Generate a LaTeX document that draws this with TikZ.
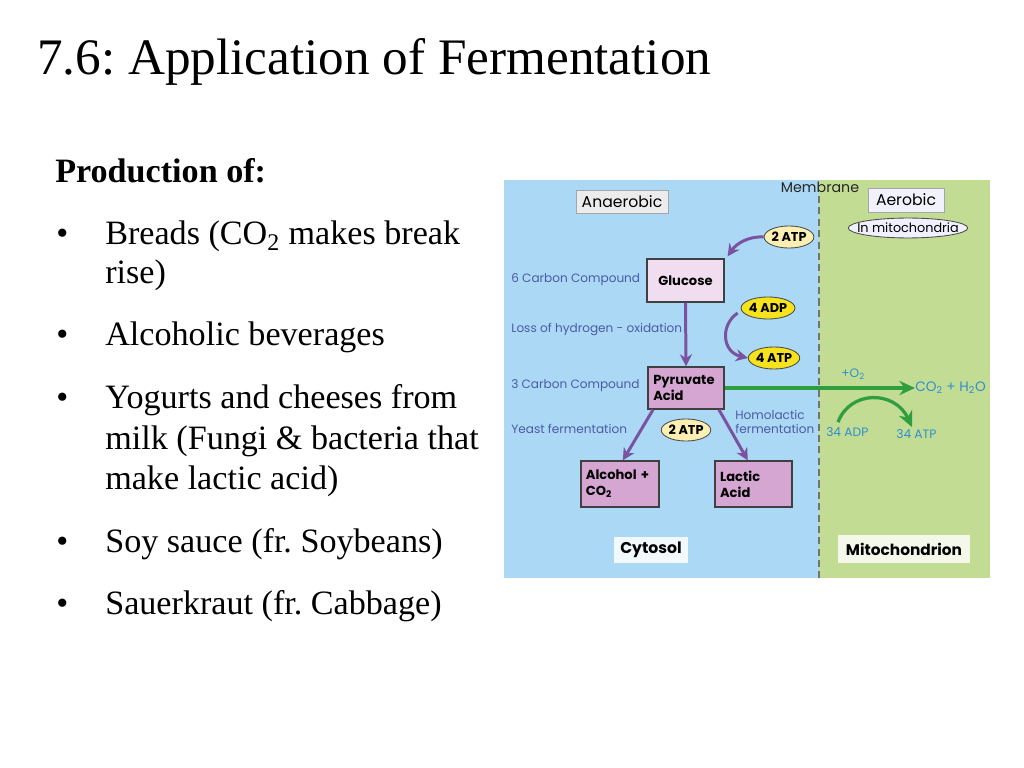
\documentclass[tikz,border=0pt]{standalone}
\usepackage{fontspec}
\setmainfont{Liberation Serif}
\newfontfamily\dfont{Poppins}
\usetikzlibrary{arrows.meta,shapes.geometric}
\frenchspacing
\definecolor{bluebg}{HTML}{ABD8F4}
\definecolor{greenbg}{HTML}{C2DC94}
\definecolor{purp}{HTML}{7A52A0}
\definecolor{lblue}{HTML}{4B5BA6}
\definecolor{rblue}{HTML}{2E8FCB}
\definecolor{grn}{HTML}{2E9E3E}
\definecolor{boxlight}{HTML}{F0DEF0}
\definecolor{boxmed}{HTML}{D6A6D2}
\definecolor{paley}{HTML}{FBEFB2}
\definecolor{brighty}{HTML}{F6E31C}
\tikzset{
  body/.style={anchor=base west,inner sep=0pt,font=\fontsize{24}{28}\selectfont},
  dlabel/.style={anchor=west,inner sep=0pt,text=lblue,font=\dfont\fontsize{8.5}{10}\selectfont},
  rlabel/.style={anchor=west,inner sep=0pt,text=rblue,font=\dfont\fontsize{8.6}{10}\selectfont},
  mbox/.style={draw=black!75,line width=0.9pt,align=left,font=\dfont\bfseries\fontsize{9.2}{11}\selectfont,inner sep=0pt},
  tagbox/.style={draw=black!35,line width=0.5pt,font=\dfont\fontsize{11}{12}\selectfont,inner sep=0pt},
  atpell/.style={ellipse,draw=black!70,line width=0.6pt,font=\dfont\bfseries\fontsize{9}{10}\selectfont,inner sep=0pt},
  parrow/.style={draw=purp,line width=2.1pt,-{Stealth[length=8.5pt,width=8.5pt]}},
  garrow/.style={draw=grn,line width=2.3pt,-{Stealth[length=11pt,width=10pt]}},
}
\begin{document}
\begin{tikzpicture}[x=0.703125pt,y=-0.703125pt]
\useasboundingbox[fill=white] (0,0) rectangle (1024,768);
% title and text
\node[anchor=base west,inner sep=0pt,font=\fontsize{36}{42}\selectfont] (title) at (37,75) {7.6: Application of Fermentation};
\node[body,font=\bfseries\fontsize{24}{28}\selectfont] (prod) at (55,183) {Production of:};
\node[body] (b1) at (56,245) {•};
\node[body] (t1) at (105,245) {Breads (CO\textsubscript{2} makes break};
\node[body] (t1b) at (105,283) {rise)};
\node[body] (b2) at (56,346) {•};
\node[body] (t2) at (105,346) {Alcoholic beverages};
\node[body] (b3) at (56,408) {•};
\node[body] (t3) at (105,408) {Yogurts and cheeses from};
\node[body] (t3b) at (105,449) {milk (Fungi \& bacteria that};
\node[body] (t3c) at (105,489) {make lactic acid)};
\node[body] (b4) at (56,552) {•};
\node[body] (t4) at (105,552) {Soy sauce (fr. Soybeans)};
\node[body] (b5) at (56,614) {•};
\node[body] (t5) at (105,614) {Sauerkraut (fr. Cabbage)};
% backgrounds
\fill[bluebg] (504,180) rectangle (819,578);
\fill[greenbg] (819,180) rectangle (990,578);
\draw[black!55,line width=1.2pt,dash pattern=on 5pt off 3pt] (819,196) -- (819,578);
\node[inner sep=0pt,font=\dfont\fontsize{10}{11}\selectfont,text=black!85] (membrane) at (820,187) {Membrane};
% tags
\node[tagbox,fill=green!8!black!8!white,minimum width=64.7pt,minimum height=16.2pt] (anaer) at (622,201.5) {Anaerobic};
\node[tagbox,fill=blue!5!white,minimum width=53.4pt,minimum height=16.9pt] (aer) at (906,200) {Aerobic};
\node[ellipse,draw=black!70,line width=0.6pt,fill=blue!6!white,inner xsep=-9pt,inner ysep=0pt,minimum width=84pt,minimum height=14pt,font=\dfont\fontsize{9}{10}\selectfont] (inmito) at (908,228) {In mitochondria};
\node[tagbox,draw=none,fill=white!85!bluebg,minimum width=52pt,minimum height=18pt,font=\dfont\bfseries\fontsize{11}{12}\selectfont] (cyto) at (651,550) {Cytosol};
\node[tagbox,draw=none,fill=white!80!greenbg,minimum width=93pt,minimum height=20pt,font=\dfont\bfseries\fontsize{10.8}{12}\selectfont] (mito) at (904,549) {Mitochondrion};
% main boxes
\node[mbox,fill=boxlight,minimum width=54.1pt,minimum height=30.2pt,align=center] (glucose) at (685.5,280.5) {Glucose};
\node[mbox,fill=boxmed,minimum width=53.4pt,minimum height=29.5pt,text width=46pt] (pyruvate) at (686,388) {Pyruvate\\Acid};
\node[mbox,fill=boxmed,minimum width=54.8pt,minimum height=32.3pt,text width=48pt] (alcohol) at (620,484) {Alcohol +\\CO\textsubscript{2}};
\node[mbox,fill=boxmed,minimum width=54.1pt,minimum height=32.3pt,text width=47pt] (lactic) at (753.5,484) {Lactic\\Acid};
% ATP ellipses
\node[atpell,fill=paley,minimum width=35pt,minimum height=15.5pt] (atp1) at (789,237) {2 ATP};
\node[atpell,fill=brighty,minimum width=34pt,minimum height=15.5pt] (adp4) at (768,308) {4 ADP};
\node[atpell,fill=brighty,minimum width=34pt,minimum height=15.5pt] (atp4) at (774,358) {4 ATP};
\node[atpell,fill=paley,minimum width=32pt,minimum height=15.5pt] (atp2) at (686,430) {2 ATP};
% left labels
\node[dlabel] (c6) at (511,280) {6 Carbon Compound};
\node[dlabel] (loss) at (511,330) {Loss of hydrogen - oxidation};
\node[dlabel] (c3) at (511,386) {3 Carbon Compound};
\node[dlabel] (yeast) at (511,429) {Yeast fermentation};
\node[dlabel,align=left,font=\dfont\fontsize{8.5}{10}\selectfont] (homo) at (735,422) {Homolactic\\fermentation};
% right labels
\node[rlabel,font=\dfont\fontsize{9.6}{11}\selectfont] (co2) at (915,388) {CO\textsubscript{2} + H\textsubscript{2}O};
\node[rlabel] (o2) at (841,374) {+O\textsubscript{2}};
\node[rlabel] (adp34) at (826,432) {34 ADP};
\node[rlabel] (atp34) at (896,434) {34 ATP};
% arrows
\draw[parrow] (atp1.west) .. controls (748,236) and (736,244) .. ([shift={(3,-2)}]glucose.north east);
\draw[parrow] (glucose.south) -- (pyruvate.north);
\draw[parrow] ([shift={(-3,5)}]adp4.west) .. controls (720,325) and (722,352) .. (atp4.west);
\draw[parrow] ([xshift=4pt]pyruvate.south west) -- ([xshift=2pt]alcohol.north);
\draw[parrow] ([xshift=-4pt]pyruvate.south east) -- ([xshift=-4pt]lactic.north);
\draw[garrow] (pyruvate.east) -- (co2.west);
\draw[garrow] ([shift={(12,-5)}]adp34.north west) .. controls (850,390) and (895,390) .. ([shift={(16,-2)}]atp34.north west);
\end{tikzpicture}
\end{document}
